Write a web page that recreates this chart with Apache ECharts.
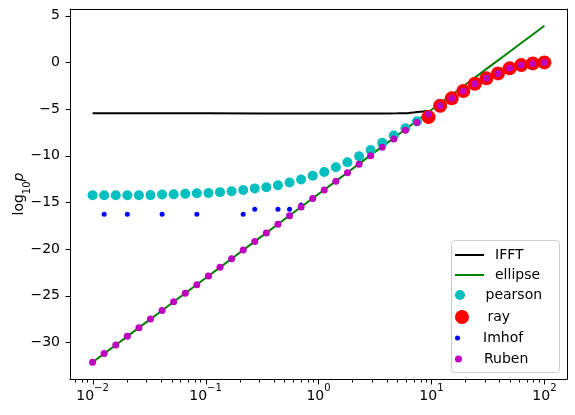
<!DOCTYPE html>
<html>
<head>
<meta charset="utf-8">
<script src="https://cdn.jsdelivr.net/npm/echarts@6/dist/echarts.min.js"></script>
<style>
  html, body { margin: 0; padding: 0; background: #fff; }
  #chart { width: 575px; height: 415px; }
</style>
</head>
<body>
<div id="chart"></div>
<script>
// x grid shared by the point series (40 log-spaced values, 0.01 .. 100)
var xs = [0.01, 0.01266, 0.01604, 0.02031, 0.02572, 0.03256, 0.04125, 0.05223, 0.06614, 0.08377,
          0.1061, 0.1343, 0.1701, 0.2154, 0.2728, 0.3455, 0.4376, 0.5541, 0.7017, 0.8886,
          1.125, 1.425, 1.805, 2.286, 2.894, 3.665, 4.642, 5.878, 7.444, 9.427,
          11.94, 15.12, 19.14, 24.24, 30.70, 38.88, 49.24, 62.36, 78.96, 100];

var ifftX = [0.01, 0.1, 1, 3, 5, 6, 6.5, 7.5, 8.5, 9.3];
var ifftY = [-5.46, -5.46, -5.47, -5.47, -5.46, -5.44, -5.40, -5.32, -5.26, -5.22];

var ellipseY = [-32.12, -31.20, -30.27, -29.35, -28.42, -27.50, -26.58, -25.65, -24.73, -23.80,
                -22.88, -21.96, -21.03, -20.11, -19.18, -18.26, -17.34, -16.41, -15.49, -14.56,
                -13.64, -12.72, -11.79, -10.87, -9.94, -9.02, -8.10, -7.17, -6.25, -5.32,
                -4.40, -3.48, -2.55, -1.63, -0.70, 0.22, 1.14, 2.07, 2.99, 3.92];

// pearson: first 29 points of xs
var pearsonY = [-14.24, -14.24, -14.24, -14.24, -14.24, -14.22, -14.15, -14.13, -14.07, -14.02,
                -13.99, -13.90, -13.80, -13.68, -13.50, -13.38, -13.17, -12.87, -12.54, -12.14,
                -11.74, -11.24, -10.69, -10.05, -9.39, -8.62, -7.84, -7.05, -6.30];

// ray: last 11 points of xs
var rayY = [-5.86, -4.65, -3.85, -3.07, -2.29, -1.71, -1.18, -0.64, -0.29, -0.11, 0.0];

// Imhof: only where it was drawn
var imhofY = [null, -16.28, null, -16.28, null, null, -16.28, null, null, -16.28,
              null, null, null, -16.28, -15.74, null, -15.74, -15.74, -15.28];

var rubenY = [-32.12, -31.18, -30.27, -29.35, -28.42, -27.50, -26.57, -25.65, -24.73, -23.81,
              -22.88, -21.96, -21.04, -20.11, -19.19, -18.27, -17.34, -16.42, -15.50, -14.58,
              -13.66, -12.73, -11.82, -10.90, -9.99, -9.08, -8.20, -7.28, -6.44, -5.55,
              -4.65, -3.85, -3.07, -2.30, -1.71, -1.18, -0.64, -0.29, -0.11, 0.0];

var xMajorTicks = [0.01, 0.1, 1, 10, 100];
var xMinorTicks = [0.007, 0.008, 0.009,
                   0.02, 0.03, 0.04, 0.05, 0.06, 0.07, 0.08, 0.09,
                   0.2, 0.3, 0.4, 0.5, 0.6, 0.7, 0.8, 0.9,
                   2, 3, 4, 5, 6, 7, 8, 9,
                   20, 30, 40, 50, 60, 70, 80, 90];
var yTicks = [5, 0, -5, -10, -15, -20, -25, -30];

var X_MIN = 0.00631, X_MAX = 158.5, Y_MIN = -33.92, Y_MAX = 5.72;
var FONT = 'DejaVu Sans';

function pairs(xArr, yArr, offset) {
  var out = [];
  for (var i = 0; i < yArr.length; i++) {
    if (yArr[i] === null) continue;
    out.push([xArr[i + offset], yArr[i]]);
  }
  return out;
}

function minus(v) {
  return v < 0 ? '\u2212' + (-v) : String(v);
}

function tickSeries(name, vals, isX, len) {
  return {
    type: 'custom',
    name: name,
    silent: true,
    clip: false,
    z: 10,
    data: vals.map(function (v) { return isX ? [v, Y_MIN] : [X_MIN, v]; }),
    renderItem: function (params, api) {
      var p = api.coord([api.value(0), api.value(1)]);
      var x = Math.round(p[0]) + 0.5, y = Math.round(p[1]) + 0.5;
      return {
        type: 'line',
        shape: isX ? { x1: x, y1: y, x2: x, y2: y + len } : { x1: x - len, y1: y, x2: x, y2: y },
        style: { stroke: '#000', lineWidth: 1 }
      };
    }
  };
}

var legendTops = [248, 268, 288, 310, 331, 352];
var legendItems = [
  { name: 'IFFT', h: 2, icon: 'rect' },
  { name: 'ellipse', h: 2, icon: 'rect' },
  { name: 'pearson', h: 10, icon: 'circle' },
  { name: 'ray', h: 14, icon: 'circle' },
  { name: 'Imhof', h: 5, icon: 'circle' },
  { name: 'Ruben', h: 7, icon: 'circle' }
];
var legends = legendItems.map(function (it, i) {
  return {
    left: 455,
    top: legendTops[i],
    padding: 0,
    orient: 'vertical',
    itemWidth: 29,
    itemHeight: it.h,
    selectedMode: false,
    data: [{ name: it.name, icon: it.icon }],
    formatter: '{t|{name}}',
    textStyle: {
      rich: { t: { fontFamily: FONT, fontSize: 14, color: '#000', padding: [0, 0, 0, 6] } }
    }
  };
});

function frameAxis(pos) {
  return {
    type: 'value',
    position: pos,
    min: 0, max: 1,
    axisLine: { show: true, onZero: false, lineStyle: { color: '#000', width: 1 } },
    axisTick: { show: false },
    axisLabel: { show: false },
    splitLine: { show: false }
  };
}

var chart = echarts.init(document.getElementById('chart'), null, { renderer: 'canvas' });
chart.setOption({
  animation: false,
  backgroundColor: '#fff',
  grid: { left: 70, right: 8, top: 9, bottom: 36, containLabel: false, outerBoundsMode: 'none' },
  legend: legends,
  graphic: [{
    type: 'rect',
    z: 1,
    shape: { x: 451.5, y: 240.5, width: 108, height: 132, r: 3 },
    style: { fill: 'rgba(255,255,255,0.8)', stroke: '#cccccc', lineWidth: 1 }
  }],
  xAxis: [{
    type: 'log',
    min: X_MIN,
    max: X_MAX,
    axisLine: { show: true, onZero: false, lineStyle: { color: '#000', width: 1 } },
    axisTick: { show: false },
    splitLine: { show: false },
    axisLabel: {
      showMinLabel: false,
      showMaxLabel: false,
      margin: 4,
      formatter: function (v) {
        var e = Math.round(Math.log(v) / Math.LN10);
        return '{b|10}{s|' + minus(e) + '}';
      },
      rich: {
        b: { fontFamily: FONT, fontSize: 14, color: '#000', verticalAlign: 'bottom', lineHeight: 20 },
        s: { fontFamily: FONT, fontSize: 10, color: '#000', verticalAlign: 'top', lineHeight: 10 }
      }
    }
  }, frameAxis('top')],
  yAxis: [{
    type: 'value',
    min: Y_MIN,
    max: Y_MAX,
    splitNumber: 8,
    axisLine: { show: true, onZero: false, lineStyle: { color: '#000', width: 1 } },
    axisTick: { show: false },
    splitLine: { show: false },
    axisLabel: {
      showMinLabel: false,
      showMaxLabel: false,
      margin: 10,
      fontFamily: FONT,
      fontSize: 14,
      color: '#000',
      formatter: function (v) { return minus(v); }
    },
    name: '{a|log}{b|10}{c|p}',
    nameLocation: 'middle',
    nameRotate: 90,
    nameGap: 38,
    nameMoveOverlap: false,
    nameTextStyle: {
      rich: {
        a: { fontFamily: FONT, fontSize: 14, color: '#000', verticalAlign: 'top', lineHeight: 20 },
        b: { fontFamily: FONT, fontSize: 10, color: '#000', verticalAlign: 'bottom', lineHeight: 10 },
        c: { fontFamily: FONT, fontSize: 14, fontStyle: 'italic', color: '#000', verticalAlign: 'top', lineHeight: 20 }
      }
    }
  }, frameAxis('right')],
  series: [
    {
      name: 'IFFT', type: 'line', z: 2,
      data: pairs(ifftX, ifftY, 0),
      showSymbol: false, symbol: 'none', smooth: 0.3,
      lineStyle: { color: '#000000', width: 2 },
      itemStyle: { color: '#000000' }
    },
    {
      name: 'ellipse', type: 'line', z: 3,
      data: pairs(xs, ellipseY, 0),
      showSymbol: false, symbol: 'none',
      lineStyle: { color: '#008000', width: 2 },
      itemStyle: { color: '#008000' }
    },
    {
      name: 'pearson', type: 'scatter', z: 4,
      data: pairs(xs, pearsonY, 0),
      symbolSize: 10,
      itemStyle: { color: '#00bfbf', opacity: 1 }
    },
    {
      name: 'ray', type: 'scatter', z: 5,
      data: pairs(xs, rayY, 29),
      symbolSize: 14,
      itemStyle: { color: '#ff0000', opacity: 1 }
    },
    {
      name: 'Imhof', type: 'scatter', z: 6,
      data: pairs(xs, imhofY, 0),
      symbolSize: 5,
      itemStyle: { color: '#0000ff', opacity: 1 }
    },
    {
      name: 'Ruben', type: 'scatter', z: 7,
      data: pairs(xs, rubenY, 0),
      symbolSize: 7,
      itemStyle: { color: '#bf00bf', opacity: 1 }
    },
    tickSeries('xMajor', xMajorTicks, true, 5),
    tickSeries('xMinor', xMinorTicks, true, 3),
    tickSeries('yMajor', yTicks, false, 5)
  ]
});
</script>
</body>
</html>
